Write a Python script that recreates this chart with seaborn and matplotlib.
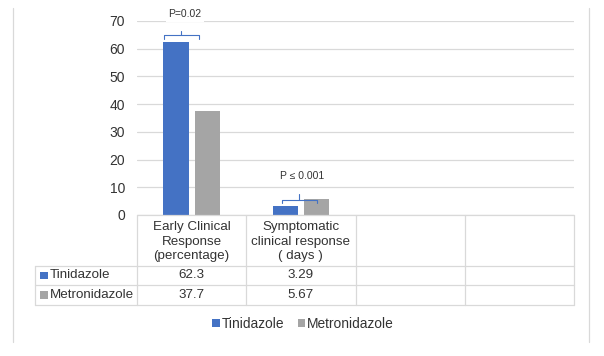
import numpy as np
import pandas as pd
import matplotlib
matplotlib.use("Agg")
import matplotlib.pyplot as plt
from matplotlib.patches import Patch, Rectangle
import seaborn as sns

# ---------------- data ----------------
category_ids = ["c0", "c1", "c2", "c3"]
category_labels = ["Early Clinical\nResponse\n(percentage)",
                   "Symptomatic\nclinical response\n( days )", "", ""]
groups = ["Tinidazole", "Metronidazole"]
tinidazole = [62.3, 3.29]
metronidazole = [37.7, 5.67]
p_labels = ["P=0.02", "P \u2264 0.001"]
y_ticks = [0, 10, 20, 30, 40, 50, 60, 70]
colors = ["#4472C4", "#A5A5A5"]

df = pd.DataFrame({
    "category": category_ids[:2] * 2,
    "group": [groups[0]] * 2 + [groups[1]] * 2,
    "value": tinidazole + metronidazole,
})

sns.set_theme(style="white")
plt.rcParams["font.family"] = ["Liberation Sans", "DejaVu Sans"]
TXT = "#333333"
GRID = "#D9D9D9"
FS = 9.6

W, H = 604, 356
fig = plt.figure(figsize=(W / 100, H / 100), dpi=100)
ax_l, ax_r, ax_b, ax_t = 137, 574, 215, 21
ax = fig.add_axes([ax_l / W, 1 - ax_b / H, (ax_r - ax_l) / W, (ax_b - ax_t) / H])

sns.barplot(data=df, x="category", y="value", hue="group", order=category_ids,
            hue_order=groups, palette=colors, width=0.57, gap=0.19,
            saturation=1, linewidth=0, legend=False, ax=ax, errorbar=None)

ax.set_xlim(-0.5, 3.5)
ax.set_ylim(0, 70)
ax.set_yticks(y_ticks)
ax.set_yticklabels([str(t) for t in y_ticks], fontsize=FS + 0.4, color=TXT)
ax.set_xticks([])
ax.set_xlabel("")
ax.set_ylabel("")
ax.tick_params(axis="y", length=0, pad=8.5)
for s in ax.spines.values():
    s.set_visible(False)
ax.yaxis.grid(True, color=GRID, linewidth=0.9)
ax.set_axisbelow(True)

# significance brackets (category index, left offset, right offset, y levels)
brackets = [
    (0, -0.253, 0.067, 65.0, 63.5, 66.4, -0.06, 72.5),
    (1, -0.173, 0.147, 5.4, 4.2, 7.6, 0.01, 14.1),
]
bcol = "#4472C4"
for (ci, lo, hi, yh, ye, yt, tx, ty), lab in zip(brackets, p_labels):
    x0, x1 = ci + lo, ci + hi
    xm = (x0 + x1) / 2
    ax.plot([x0, x0, x1, x1], [ye, yh, yh, ye], color=bcol, lw=0.8,
            clip_on=False, zorder=5)
    ax.plot([xm, xm], [yh, yt], color=bcol, lw=0.8, clip_on=False, zorder=5)
    ax.text(ci + tx, ty, lab, ha="center", va="center", fontsize=7.5,
            color=TXT, clip_on=False, zorder=6,
            bbox=dict(facecolor="white", edgecolor="none", pad=2))

# ---------------- overlay: data table + frame ----------------
ov = fig.add_axes([0, 0, 1, 1])
ov.set_xlim(0, W)
ov.set_ylim(H, 0)
ov.axis("off")

colw = (ax_r - ax_l) / len(category_ids)
col_x = [ax_l + i * colw for i in range(len(category_ids) + 1)]
tab_left = 35
y_head_top, y_head_bot = 215, 265.5
row_h = 19.8
row_y = [y_head_bot + i * row_h for i in range(len(groups) + 1)]

lkw = dict(color=GRID, lw=0.9)
ov.plot([ax_l, ax_r], [y_head_top, y_head_top], **lkw)
for y in row_y:
    ov.plot([tab_left, ax_r], [y, y], **lkw)
ov.plot([tab_left, tab_left], [row_y[0], row_y[-1]], **lkw)
for x in col_x:
    ov.plot([x, x], [y_head_top, row_y[-1]], **lkw)

for i, lab in enumerate(category_labels):
    cx = (col_x[i] + col_x[i + 1]) / 2
    ov.text(cx, (y_head_top + y_head_bot) / 2 + 1.5, lab, ha="center", va="center",
            fontsize=FS, color=TXT, linespacing=1.28)

series = [tinidazole, metronidazole]
for r, (g, vals, c) in enumerate(zip(groups, series, colors)):
    yc = (row_y[r] + row_y[r + 1]) / 2
    ov.add_patch(Rectangle((40, yc - 3.8), 7.5, 7.5, facecolor=c, edgecolor="none"))
    ov.text(49.5, yc, g, ha="left", va="center", fontsize=FS, color=TXT)
    for i, v in enumerate(vals):
        cx = (col_x[i] + col_x[i + 1]) / 2
        ov.text(cx, yc, f"{v:g}", ha="center", va="center", fontsize=FS, color=TXT)

# chart frame (vertical edges visible in crop)
ov.plot([13, 13], [8, 342], **lkw)
ov.plot([589, 589], [8, 342], **lkw)

# legend
handles = [Patch(facecolor=c, edgecolor="none", label=g) for g, c in zip(groups, colors)]
fig.legend(handles=handles, loc="center", bbox_to_anchor=(303 / W, 1 - 324 / H),
           ncol=2, frameon=False, fontsize=FS + 0.3, handlelength=0.55, handleheight=0.55,
           handletextpad=0.12, columnspacing=1.0, labelcolor=TXT)

fig.savefig("out.png", dpi=100)
